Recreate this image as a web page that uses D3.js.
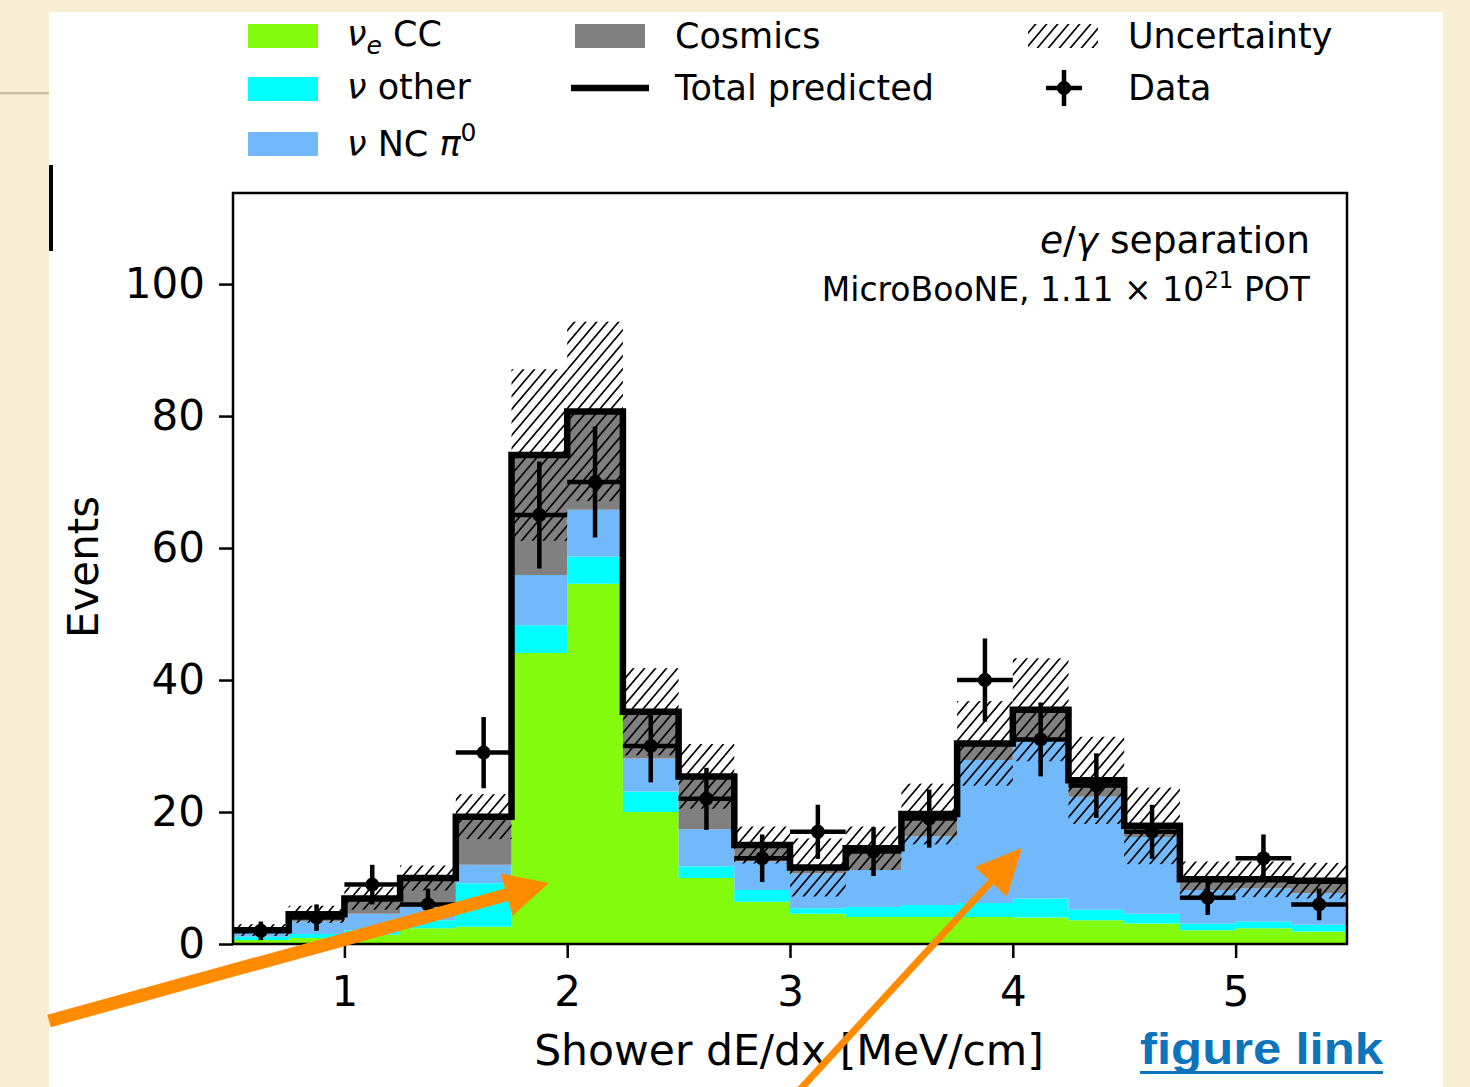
<!DOCTYPE html>
<html>
<head>
<meta charset="utf-8">
<script src="https://cdn.jsdelivr.net/npm/d3@7"></script>
<style>
  html, body { margin: 0; padding: 0; background: #f7eed3; }
  svg { display: block; }
  text { font-family: "DejaVu Sans", sans-serif; }
</style>
</head>
<body>
<svg id="fig" width="1470" height="1087"></svg>
<script>
// Shower dE/dx distribution, 0.25 MeV/cm bins from 0.5 to 5.5
const binEdges = [0.5, 0.75, 1.0, 1.25, 1.5, 1.75, 2.0, 2.25, 2.5, 2.75, 3.0,
                  3.25, 3.5, 3.75, 4.0, 4.25, 4.5, 4.75, 5.0, 5.25, 5.5];

// Stacked predictions (events per bin)
const nueCC   = [0.6, 0.9, 1.4, 2.4, 2.6, 44.1, 54.6, 20.0, 10.0, 6.4, 4.6, 4.1, 4.1, 4.1, 4.0, 3.6, 3.1, 2.1, 2.4, 1.9];
const nuOther = [0.5, 0.6, 0.7, 1.2, 6.6, 4.2, 4.1, 3.1, 1.8, 1.8, 0.8, 1.5, 1.8, 2.1, 2.9, 1.6, 1.5, 1.0, 1.0, 1.0];
const ncPi0   = [0.8, 1.9, 2.5, 2.0, 2.8, 7.6, 7.1, 5.0, 5.6, 4.3, 5.3, 5.6, 10.4, 21.7, 23.8, 17.1, 11.6, 5.1, 5.0, 4.8];
const cosmics = [0.2, 1.1, 2.3, 4.4, 7.3, 18.2, 14.9, 7.1, 8.0, 2.5, 0.9, 3.3, 3.4, 2.5, 4.8, 2.5, 1.7, 1.6, 1.4, 1.9];

// Systematic uncertainty on the total prediction (+/-)
const uncertainty = [0.9, 1.3, 1.7, 1.9, 3.4, 13.0, 13.6, 6.6, 4.9, 2.8, 4.4, 3.3, 4.6, 6.4, 7.8, 6.6, 5.8, 2.7, 2.7, 2.7];

// Observed counts and their statistical errors
const dataCounts = [2, 4, 9, 6, 29, 65, 70, 30, 22, 13, 17, 14, 19, 40, 31, 24, 17, 7, 13, 6];
const dataErr    = [1.4, 2.0, 3.0, 2.4, 5.4, 8.1, 8.4, 5.5, 4.7, 3.6, 4.1, 3.7, 4.4, 6.3, 5.6, 4.9, 4.1, 2.6, 3.6, 2.4];

const xTicks = [1, 2, 3, 4, 5];
const yTicks = [0, 20, 40, 60, 80, 100];

const seriesKeys   = ["nueCC", "nuOther", "ncPi0", "cosmics"];
const seriesColors = { nueCC: "#82fb0c", nuOther: "#00ffff", ncPi0: "#72b9fb", cosmics: "#808080" };

const svg = d3.select("#fig");

// Slide panel
svg.append("rect").attr("x", 0).attr("y", 0).attr("width", 1470).attr("height", 1087).attr("fill", "#f7eed3");
svg.append("rect").attr("x", 0).attr("y", 92).attr("width", 49).attr("height", 2.5).attr("fill", "#c9c1a7");
svg.append("rect").attr("x", 49).attr("y", 12).attr("width", 1394).attr("height", 1080).attr("fill", "#fff");
svg.append("rect").attr("x", 49).attr("y", 165).attr("width", 4).attr("height", 86).attr("fill", "#000");

// Hatch pattern for the uncertainty band
const defs = svg.append("defs");
const pat = defs.append("pattern").attr("id", "hatch").attr("patternUnits", "userSpaceOnUse")
  .attr("width", 11).attr("height", 13);
pat.append("path").attr("d", "M-1,1.2 L1,-1.2 M0,13 L11,0 M10,14.2 L12,11.8")
  .attr("stroke", "#000").attr("stroke-width", 1.7).attr("fill", "none");

// Axes geometry
const plot = { left: 233, right: 1347, top: 193, bottom: 944 };
const x = d3.scaleLinear().domain([0.5, 5.5]).range([plot.left, plot.right]);
const y = d3.scaleLinear().domain([0, 113.8]).range([plot.bottom, plot.top]);

// Per-bin table for stacking
const bins = nueCC.map((_, i) => ({
  lo: binEdges[i], hi: binEdges[i + 1],
  nueCC: nueCC[i], nuOther: nuOther[i], ncPi0: ncPi0[i], cosmics: cosmics[i]
}));
const stacked = d3.stack().keys(seriesKeys)(bins);
const totals = bins.map(b => seriesKeys.reduce((s, k) => s + b[k], 0));

const chart = svg.append("g");

// Stacked histogram layers drawn as step areas
const stepArea = d3.area()
  .curve(d3.curveStepAfter)
  .x(d => x(d.x)).y0(d => y(d.y0)).y1(d => y(d.y1));
stacked.forEach(layer => {
  const pts = layer.map((d, i) => ({ x: binEdges[i], y0: d[0], y1: d[1] }));
  const last = layer[layer.length - 1];
  pts.push({ x: binEdges[binEdges.length - 1], y0: last[0], y1: last[1] });
  chart.append("path").attr("d", stepArea(pts)).attr("fill", seriesColors[layer.key]).attr("stroke", "none");
});

// Uncertainty band
chart.append("g").selectAll("rect").data(bins).join("rect")
  .attr("x", d => x(d.lo)).attr("width", d => x(d.hi) - x(d.lo))
  .attr("y", (d, i) => y(totals[i] + uncertainty[i]))
  .attr("height", (d, i) => y(totals[i] - uncertainty[i]) - y(totals[i] + uncertainty[i]))
  .attr("fill", "url(#hatch)");

// Total predicted step line
const totalPts = totals.map((t, i) => ({ x: binEdges[i], v: t }));
totalPts.push({ x: binEdges[binEdges.length - 1], v: totals[totals.length - 1] });
chart.append("path")
  .attr("d", d3.line().curve(d3.curveStepAfter).x(d => x(d.x)).y(d => y(d.v))(totalPts))
  .attr("fill", "none").attr("stroke", "#000").attr("stroke-width", 6.5).attr("stroke-linejoin", "miter");

// Data points with error bars
const pts = chart.append("g");
bins.forEach((b, i) => {
  const cx = x((b.lo + b.hi) / 2);
  const n = dataCounts[i], e = dataErr[i];
  pts.append("line").attr("x1", x(b.lo)).attr("x2", x(b.hi)).attr("y1", y(n)).attr("y2", y(n))
    .attr("stroke", "#000").attr("stroke-width", 4.5);
  pts.append("line").attr("x1", cx).attr("x2", cx).attr("y1", y(n - e)).attr("y2", y(n + e))
    .attr("stroke", "#000").attr("stroke-width", 4.5);
  pts.append("circle").attr("cx", cx).attr("cy", y(n)).attr("r", 7).attr("fill", "#000");
});

// Frame
svg.append("rect").attr("x", plot.left).attr("y", plot.top)
  .attr("width", plot.right - plot.left).attr("height", plot.bottom - plot.top)
  .attr("fill", "none").attr("stroke", "#000").attr("stroke-width", 2.5);

// Axes
const xAxis = d3.axisBottom(x).tickValues(xTicks).tickSize(14).tickPadding(18).tickFormat(d3.format("d"));
const yAxis = d3.axisLeft(y).tickValues(yTicks).tickSize(14).tickPadding(14).tickFormat(d3.format("d"));
const gx = svg.append("g").attr("transform", `translate(0,${plot.bottom})`).call(xAxis);
const gy = svg.append("g").attr("transform", `translate(${plot.left},0)`).call(yAxis);
[gx, gy].forEach(g => {
  g.select(".domain").remove();
  g.selectAll(".tick line").attr("stroke", "#000").attr("stroke-width", 2.5);
  g.selectAll(".tick text").attr("font-family", "DejaVu Sans").attr("font-size", 42).style("fill", "#000");
});

// Axis titles
svg.append("text").attr("x", 789).attr("y", 1065).attr("text-anchor", "middle")
  .attr("font-size", 42.5).style("fill", "#000").text("Shower dE/dx [MeV/cm]");
svg.append("text").attr("transform", "translate(98,567) rotate(-90)").attr("text-anchor", "middle")
  .attr("font-size", 42).style("fill", "#000").text("Events");

// In-plot annotation
const t1 = svg.append("text").attr("x", 1310).attr("y", 253).attr("text-anchor", "end").attr("font-size", 37.6).style("fill", "#000");
t1.append("tspan").attr("font-style", "italic").text("e");
t1.append("tspan").text("/");
t1.append("tspan").attr("font-style", "italic").text("γ");
t1.append("tspan").text(" separation");
const t2 = svg.append("text").attr("x", 1310).attr("y", 301).attr("text-anchor", "end").attr("font-size", 33).style("fill", "#000");
t2.append("tspan").text("MicroBooNE, 1.11 × 10");
t2.append("tspan").attr("font-size", 23).attr("dy", -13).text("21");
t2.append("tspan").attr("dy", 13).text(" POT");

// Legend
const leg = svg.append("g");
const legFont = 35;
function patch(px, py, fill) {
  leg.append("rect").attr("x", px).attr("y", py).attr("width", 70).attr("height", 24).attr("fill", fill);
}
patch(248, 24, seriesColors.nueCC);
patch(248, 77, seriesColors.nuOther);
patch(248, 132, seriesColors.ncPi0);
patch(575, 24, seriesColors.cosmics);
leg.append("rect").attr("x", 1028).attr("y", 24).attr("width", 70).attr("height", 24).attr("fill", "url(#hatch)");
leg.append("line").attr("x1", 571).attr("x2", 649).attr("y1", 88).attr("y2", 88).attr("stroke", "#000").attr("stroke-width", 6.5);
leg.append("line").attr("x1", 1046).attr("x2", 1082).attr("y1", 88).attr("y2", 88).attr("stroke", "#000").attr("stroke-width", 4.5);
leg.append("line").attr("x1", 1064).attr("x2", 1064).attr("y1", 70).attr("y2", 106).attr("stroke", "#000").attr("stroke-width", 4.5);
leg.append("circle").attr("cx", 1064).attr("cy", 88).attr("r", 7).attr("fill", "#000");

const l1 = leg.append("text").attr("x", 347).attr("y", 46).attr("font-size", legFont).style("fill", "#000");
l1.append("tspan").attr("font-style", "italic").text("ν");
l1.append("tspan").attr("font-style", "italic").attr("font-size", 25).attr("dy", 8).text("e");
l1.append("tspan").attr("dy", -8).text(" CC");
const l2 = leg.append("text").attr("x", 347).attr("y", 99).attr("font-size", legFont).style("fill", "#000");
l2.append("tspan").attr("font-style", "italic").text("ν");
l2.append("tspan").text(" other");
const l3 = leg.append("text").attr("x", 347).attr("y", 156).attr("font-size", legFont).style("fill", "#000");
l3.append("tspan").attr("font-style", "italic").text("ν");
l3.append("tspan").text(" NC ");
l3.append("tspan").attr("font-style", "italic").text("π");
l3.append("tspan").attr("font-size", 25).attr("dy", -15).text("0");
leg.append("text").attr("x", 675).attr("y", 48).attr("font-size", legFont).style("fill", "#000").text("Cosmics");
leg.append("text").attr("x", 675).attr("y", 100).attr("font-size", legFont).style("fill", "#000").text("Total predicted");
leg.append("text").attr("x", 1128).attr("y", 48).attr("font-size", legFont).style("fill", "#000").text("Uncertainty");
leg.append("text").attr("x", 1128).attr("y", 100).attr("font-size", legFont).style("fill", "#000").text("Data");

// Link caption
svg.append("text").attr("x", 1140).attr("y", 1064)
  .style("font-family", "'Liberation Sans', Arial, sans-serif").attr("font-weight", "bold")
  .attr("font-size", 45).style("fill", "#0d74bb").attr("textLength", 243).attr("lengthAdjust", "spacingAndGlyphs")
  .text("figure link");
svg.append("rect").attr("x", 1140).attr("y", 1071).attr("width", 243).attr("height", 3).attr("fill", "#0d74bb");

// Orange pointer arrows
function arrow(tail, tip, shaft, headLen, headW) {
  const dx = tip[0] - tail[0], dy = tip[1] - tail[1];
  const L = Math.hypot(dx, dy), ux = dx / L, uy = dy / L, nx = -uy, ny = ux;
  const bx = tip[0] - ux * headLen, by = tip[1] - uy * headLen;
  const p = [
    [tail[0] + nx * shaft / 2, tail[1] + ny * shaft / 2],
    [bx + nx * shaft / 2, by + ny * shaft / 2],
    [bx + nx * headW / 2, by + ny * headW / 2],
    tip,
    [bx - nx * headW / 2, by - ny * headW / 2],
    [bx - nx * shaft / 2, by - ny * shaft / 2],
    [tail[0] - nx * shaft / 2, tail[1] - ny * shaft / 2]
  ];
  svg.append("path").attr("d", "M" + p.map(q => q.join(",")).join("L") + "Z").attr("fill", "#ff8c00");
}
arrow([49, 1021], [549, 883], 13, 44, 44);
arrow([795, 1095], [1022, 848], 7, 46, 44);
</script>
</body>
</html>
